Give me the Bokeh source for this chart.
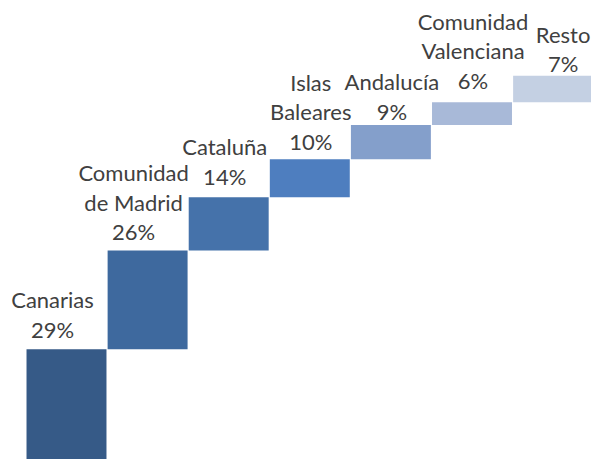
from bokeh.plotting import figure
from bokeh.models import ColumnDataSource, Range1d
from bokeh.core.properties import value
from bokeh.embed import file_html
from bokeh.resources import INLINE

# ---- data ----
regions = ["Canarias", "Comunidad\nde Madrid", "Cataluña", "Islas\nBaleares",
           "Andalucía", "Comunidad\nValenciana", "Resto"]
shares = [29, 26, 14, 10, 9, 6, 7]
colors = ["#365a87", "#3e699e", "#4572aa", "#4e7ebf", "#849fcb", "#a8b9d8", "#c4d0e3"]

# ---- layout constants (label nudges in px, not data) ----
label_dx = [-14, -14, -4, 1, 1, 1, 10]
label_gap = [20, 19, 21, 18, 14, 22, 12]
line_h = 29.5

starts, ends = [], []
acc = 0
for v in shares:
    starts.append(acc)
    acc += v
    ends.append(acc)
xs = list(range(len(regions)))

bars = ColumnDataSource(dict(x=xs, bottom=starts, top=ends, color=colors))

W, H = 591, 459
px_per_cat = 81.1
x0 = -66 / px_per_cat
p = figure(width=W, height=H, output_backend="svg", toolbar_location=None,
           x_range=Range1d(x0, x0 + W / px_per_cat),
           y_range=Range1d(0, H / 3.8),
           min_border=0, outline_line_color=None)
p.axis.visible = False
p.grid.visible = False
p.background_fill_color = "white"
p.border_fill_color = "white"

p.vbar(x="x", bottom="bottom", top="top", width=0.986, fill_color="color",
       line_color=None, source=bars)

tx, ty, txt, dx, dy = [], [], [], [], []
for i, (name, v) in enumerate(zip(regions, shares)):
    lines = name.split("\n") + [f"{v}%"]
    n = len(lines)
    for k, ln in enumerate(lines):
        tx.append(xs[i])
        ty.append(ends[i])
        txt.append(ln)
        dx.append(label_dx[i])
        dy.append(-(label_gap[i] + (n - 1 - k) * line_h))

lab = ColumnDataSource(dict(x=tx, y=ty, text=txt, dx=dx, dy=dy))
p.text(x="x", y="y", text="text", x_offset="dx", y_offset="dy", source=lab,
       text_align="center", text_baseline="alphabetic",
       text_font=value("Lato"), text_font_size="22px", text_color="#404040")

open("out.html", "w").write(file_html(p, INLINE))
